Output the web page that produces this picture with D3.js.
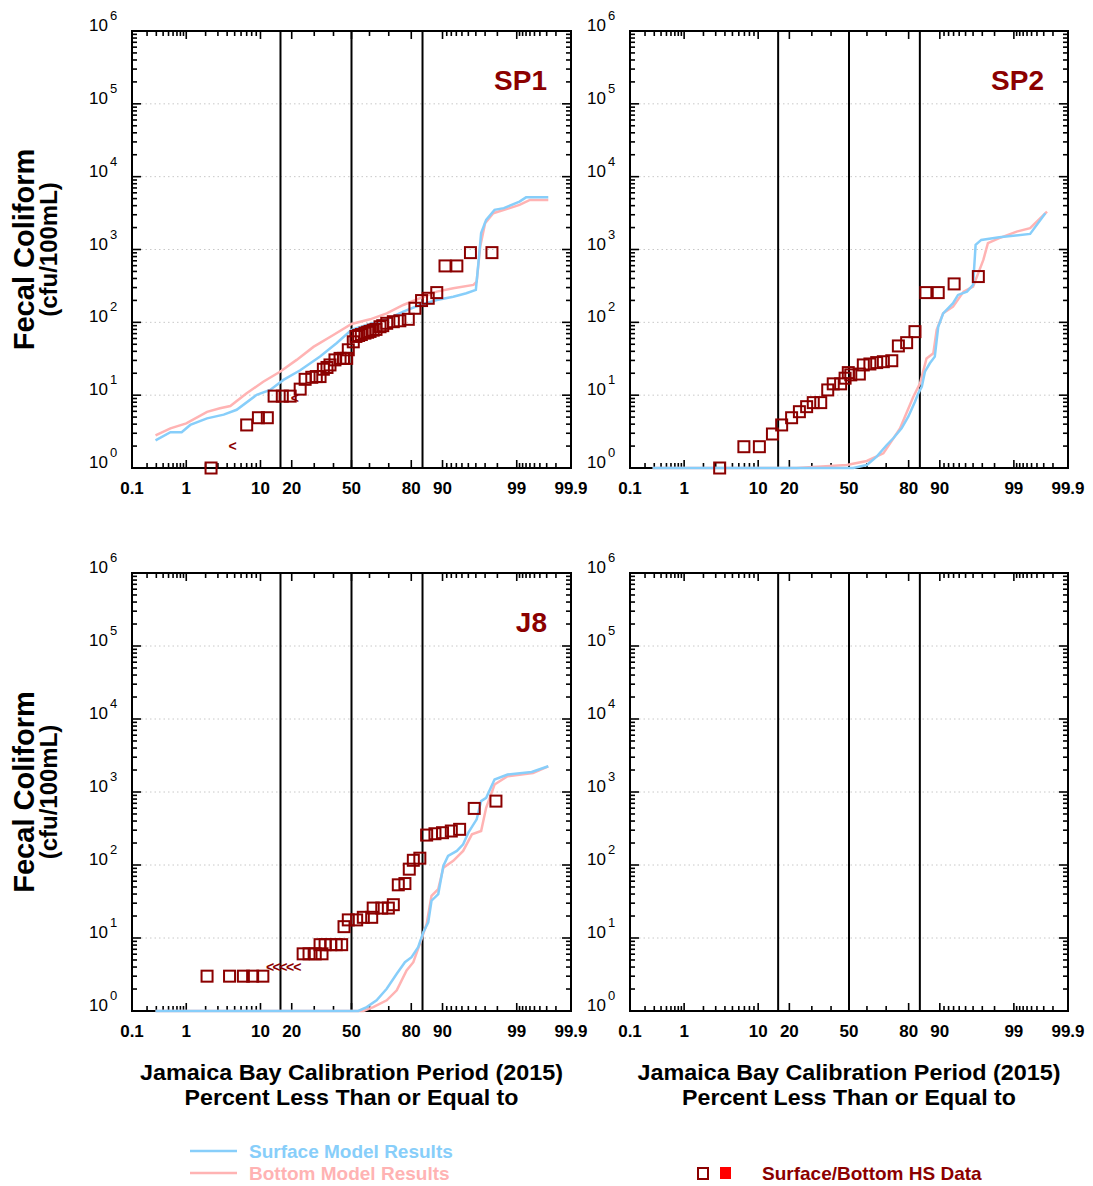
<!DOCTYPE html>
<html><head><meta charset="utf-8">
<script src="https://cdn.jsdelivr.net/npm/d3@7"></script>
<style>body{margin:0;background:#fff}svg{display:block}</style>
</head><body><svg id="c" width="1093" height="1186"></svg>
<script>
// ---------- data ----------
const xTickLabels = [0.1, 1, 10, 20, 50, 80, 90, 99, 99.9];
const xMinorTicks = [0.2,0.3,0.4,0.5,0.6,0.7,0.8,0.9,2,3,4,5,6,7,8,9,30,40,60,70,91,92,93,94,95,96,97,98,99.1,99.2,99.3,99.4,99.5,99.6,99.7,99.8];
const yDecades = [0,1,2,3,4,5,6];
const gridDecades = [1,2,3,4,5];
const refLines = [15.87, 50, 84.13];

const sp1Surface = [[0.29,2.4],[0.54,3.1],[0.84,3.1],[1.16,3.9],[2.1,4.8],[3.6,5.4],[5.3,6.3],[9.1,10.1],[12.6,11.8],[16.9,16.2],[23.5,22],[32.9,34],[41.8,52],[50,79],[60.3,95],[69,110],[76.7,140],[83.2,173],[88.5,203],[92.4,225],[94.7,251],[96.0,279],[96.3,650],[96.6,1680],[97.1,2550],[97.8,3500],[98.4,3700],[99.1,4550],[99.3,5200],[99.72,5200]];
const sp1Bottom = [[0.29,2.8],[0.54,3.5],[1.0,4.1],[2.1,5.9],[3.2,6.6],[4.4,7.1],[7.0,10.6],[10.7,15.3],[15.7,21],[22,30.5],[29.6,46],[39.9,67],[50,95],[60.3,110],[69,133],[76.7,173],[83.2,214],[88.5,264],[92.4,294],[95.7,326],[96.1,362],[96.5,1100],[97,2300],[97.7,3150],[98.7,3700],[99.1,4100],[99.4,4800],[99.72,4800]];
const sp1Data = [[2.4,1],[7.0,3.9],[9.5,4.9],[11.8,4.9],[13.8,9.7],[16.5,9.7],[19.4,9.7],[23.5,12.1],[25.7,16.5],[28.8,17.6],[31,18],[32.9,18],[34.6,22.7],[36.5,24],[38.1,26],[40.8,30.5],[43.6,32],[45.5,32],[47.3,32],[48.2,42],[51,54],[52.5,64],[54,66],[55.5,68],[57.5,71],[59,73],[60.3,75],[62,78],[63.5,80],[65.6,87],[67,90],[69,97],[72.2,102],[75.2,105],[78.8,110],[81.4,156],[83.8,199],[86,214],[88.5,256],[90.6,595],[93.1,595],[95.3,906],[97.6,906]];
const sp1Less = [[4.7,2.0],[21.3,9.2]];

const sp2Surface = [[0.28,1],[52.4,1],[59.9,1.1],[65.2,1.43],[70.3,2.07],[73.4,2.56],[77.1,3.5],[79.9,5.1],[82.4,8.1],[83.6,10.6],[84.8,13.1],[85.8,21],[87.3,27.4],[88.7,33.8],[89.6,87],[90.8,133],[92.9,183],[93.8,238],[95.2,264],[96,326],[96.3,1157],[96.9,1355],[98.3,1476],[99.47,1638],[99.72,3155]];
const sp2Bottom = [[0.28,1],[23,1],[48.7,1.1],[59.9,1.25],[68.6,1.59],[71.9,2.18],[76.4,3.5],[81.8,9.5],[84.2,14.6],[86.3,32],[88.3,37.6],[89.2,79],[90.8,133],[92.9,164],[94.7,264],[96,309],[97.1,720],[97.5,1222],[98.3,1430],[99.1,1762],[99.47,1963],[99.74,3315]];
const sp2Data = [[3.4,1],[6.9,1.96],[10.3,1.96],[14,2.93],[17.1,3.9],[20.9,4.9],[24.2,5.93],[27.5,6.95],[30.7,7.9],[34.5,7.9],[38.2,11.8],[41.2,14.3],[45.3,14.3],[47.8,17.1],[49.6,20.4],[51,19],[55.8,19.5],[58,26],[61.6,26.8],[65.2,28],[68.6,28.8],[72.7,29.7],[75.7,47.4],[79.2,52.6],[82.4,74.5],[86.1,256],[89.6,256],[93.1,337],[96.6,425]];
const sp2Less = [];

const j8Surface = [[0.29,1],[53.8,1],[58.5,1.13],[63.8,1.4],[69,2.02],[73.8,3.24],[77.4,4.66],[80.1,5.45],[82.6,7.47],[84.4,12],[86,16.4],[87,32.4],[88.9,40],[90.2,97],[91.3,133],[93.1,156],[94.2,192],[95,277],[96.1,422],[96.6,750],[97.1,832],[97.8,1480],[98.6,1734],[99.44,1880],[99.72,2250]];
const j8Bottom = [[0.29,1],[56.6,1],[62,1.13],[69,1.4],[73.8,1.92],[78.1,3.59],[80.8,4.66],[83.2,8.3],[85.5,15.6],[87,37.9],[88.9,46.8],[90.2,92],[92.4,114],[94.2,156],[95.5,263],[96.6,292],[97.1,607],[97.8,1265],[98.6,1643],[99.47,1820],[99.72,2250]];
const j8Data = [[2.1,3.0],[4.3,3.0],[6.4,3.0],[8.2,3.0],[10.6,3.0],[24.8,6.07],[27.5,6.07],[30.5,6.07],[33.9,6.07],[32.9,8.1],[35.5,8.1],[38.5,8.1],[41.5,8.1],[44.5,8.1],[45.8,14.3],[48.2,17.7],[52.9,17.7],[56.6,19.2],[61.2,19.2],[62,25.7],[66.5,25.7],[69.8,25.7],[72.2,28.6],[74.5,53.5],[77.4,55.7],[79.2,87.7],[80.8,116],[83.2,124],[85.5,257],[88,268],[90,277],[92,292],[93.6,308],[95.8,596],[97.9,750]];
const j8Less = [[12.6,4.0],[14.6,4.0],[16.9,4.0],[19.4,4.0],[22.3,4.0]];

const panelNames = ["SP1","SP2","J8",""];
const xTitle = ["Jamaica Bay Calibration Period (2015)","Percent Less Than or Equal to"];
const yTitle = ["Fecal Coliform","(cfu/100mL)"];
const legendItems = ["Surface Model Results","Bottom Model Results","Surface/Bottom HS Data"];

// ---------- helpers ----------
function probit(p){
  const a=[-3.969683028665376e+01,2.209460984245205e+02,-2.759285104469687e+02,1.383577518672690e+02,-3.066479806614716e+01,2.506628277459239e+00];
  const b=[-5.447609879822406e+01,1.615858368580409e+02,-1.556989798598866e+02,6.680131188771972e+01,-1.328068155288572e+01];
  const c=[-7.784894002430293e-03,-3.223964580411365e-01,-2.400758277161838e+00,-2.549732539343734e+00,4.374664141464968e+00,2.938163982698783e+00];
  const d=[7.784695709041462e-03,3.224671290700398e-01,2.445134137142996e+00,3.754408661907416e+00];
  const pl=0.02425, ph=1-pl; let q,r;
  if(p<pl){q=Math.sqrt(-2*Math.log(p));return (((((c[0]*q+c[1])*q+c[2])*q+c[3])*q+c[4])*q+c[5])/((((d[0]*q+d[1])*q+d[2])*q+d[3])*q+1);}
  if(p<=ph){q=p-0.5;r=q*q;return (((((a[0]*r+a[1])*r+a[2])*r+a[3])*r+a[4])*r+a[5])*q/(((((b[0]*r+b[1])*r+b[2])*r+b[3])*r+b[4])*r+1);}
  q=Math.sqrt(-2*Math.log(1-p));return -(((((c[0]*q+c[1])*q+c[2])*q+c[3])*q+c[4])*q+c[5])/((((d[0]*q+d[1])*q+d[2])*q+d[3])*q+1);
}

const BLUE="#87CEFA", PINK="#FFB3B3", DRED="#8B0000";
const FONT="'Liberation Sans', Arial, Helvetica, sans-serif";
const svg=d3.select("#c");
const cols=[{l:132,r:571},{l:630,r:1068}];
const rows=[{t:31,b:468},{t:573,b:1011}];
const panels=[
  {name:panelNames[0],col:0,row:0,surface:sp1Surface,bottom:sp1Bottom,data:sp1Data,less:sp1Less},
  {name:panelNames[1],col:1,row:0,surface:sp2Surface,bottom:sp2Bottom,data:sp2Data,less:sp2Less},
  {name:panelNames[2],col:0,row:1,surface:j8Surface,bottom:j8Bottom,data:j8Data,less:j8Less},
  {name:panelNames[3],col:1,row:1,surface:[],bottom:[],data:[],less:[]}
];

const yMinor=[];
for(let k=0;k<6;k++) for(let m=2;m<=9;m++) yMinor.push(m*Math.pow(10,k));

panels.forEach(P=>{
  const c=cols[P.col], r=rows[P.row];
  const zs=d3.scaleLinear().domain([probit(0.001),probit(0.999)]).range([c.l,c.r]);
  const x=v=>zs(probit(v/100));
  const y=d3.scaleLog().domain([1,1e6]).range([r.b,r.t]);
  const g=svg.append("g");

  // grid
  g.selectAll("line.grid").data(gridDecades).join("line")
    .attr("x1",c.l).attr("x2",c.r).attr("y1",d=>y(Math.pow(10,d))).attr("y2",d=>y(Math.pow(10,d)))
    .attr("stroke","#c8c8c8").attr("stroke-width",1).attr("stroke-dasharray","1.5,3");

  // ref lines
  g.selectAll("line.ref").data(refLines).join("line")
    .attr("x1",d=>x(d)).attr("x2",d=>x(d)).attr("y1",r.t).attr("y2",r.b)
    .attr("stroke","#000").attr("stroke-width",2);

  // x ticks (bottom and top, inside)
  const xt=[...xTickLabels.map(v=>({v,len:8})),...xMinorTicks.map(v=>({v,len:5}))];
  g.selectAll("line.xtb").data(xt).join("line")
    .attr("x1",d=>x(d.v)).attr("x2",d=>x(d.v)).attr("y1",r.b).attr("y2",d=>r.b-d.len)
    .attr("stroke","#000").attr("stroke-width",1.6);
  g.selectAll("line.xtt").data(xt).join("line")
    .attr("x1",d=>x(d.v)).attr("x2",d=>x(d.v)).attr("y1",r.t).attr("y2",d=>r.t+d.len)
    .attr("stroke","#000").attr("stroke-width",1.6);
  // y ticks (left and right)
  const yt=[...yDecades.map(k=>({v:Math.pow(10,k),len:9})),...yMinor.map(v=>({v,len:5}))];
  g.selectAll("line.ytl").data(yt).join("line")
    .attr("x1",c.l).attr("x2",d=>c.l+d.len).attr("y1",d=>y(d.v)).attr("y2",d=>y(d.v))
    .attr("stroke","#000").attr("stroke-width",1.6);
  g.selectAll("line.ytr").data(yt).join("line")
    .attr("x1",c.r).attr("x2",d=>c.r-d.len).attr("y1",d=>y(d.v)).attr("y2",d=>y(d.v))
    .attr("stroke","#000").attr("stroke-width",1.6);

  // frame
  g.append("rect").attr("x",c.l).attr("y",r.t).attr("width",c.r-c.l).attr("height",r.b-r.t)
    .attr("fill","none").attr("stroke","#000").attr("stroke-width",2);

  // x tick labels
  g.selectAll("text.xl").data(xTickLabels).join("text")
    .attr("x",d=>x(d)).attr("y",r.b+26).attr("text-anchor","middle")
    .attr("font-family",FONT).attr("font-weight","bold").attr("font-size",17).text(d=>String(d));
  // y tick labels
  const yl=g.selectAll("g.yl").data(yDecades).join("g");
  yl.append("text").attr("x",c.l-24).attr("y",d=>y(Math.pow(10,d))).attr("text-anchor","end")
    .attr("font-family",FONT).attr("font-size",17).text("10");
  yl.append("text").attr("x",c.l-22).attr("y",d=>y(Math.pow(10,d))-11)
    .attr("font-family",FONT).attr("font-size",13).text(d=>String(d));

  // model lines
  const line=d3.line().x(d=>x(d[0])).y(d=>y(d[1]));
  if(P.bottom.length) g.append("path").datum(P.bottom).attr("d",line).attr("fill","none").attr("stroke",PINK).attr("stroke-width",2.5);
  if(P.surface.length) g.append("path").datum(P.surface).attr("d",line).attr("fill","none").attr("stroke",BLUE).attr("stroke-width",2.5);

  // data squares
  g.selectAll("rect.pt").data(P.data).join("rect")
    .attr("x",d=>x(d[0])-5.5).attr("y",d=>y(d[1])-5.5).attr("width",11).attr("height",11)
    .attr("fill","none").attr("stroke",DRED).attr("stroke-width",2);
  g.selectAll("text.lt").data(P.less).join("text")
    .attr("x",d=>x(d[0])).attr("y",d=>y(d[1])+5).attr("text-anchor","middle")
    .attr("font-family",FONT).attr("font-weight","bold").attr("font-size",14).attr("fill",DRED).text("<");

  // panel label
  if(P.name) g.append("text").attr("x",c.r-24).attr("y",r.t+59).attr("text-anchor","end")
    .attr("font-family",FONT).attr("font-weight","bold").attr("font-size",28).attr("fill",DRED).text(P.name);
});

// y axis titles
rows.forEach(r=>{
  const cy=(r.t+r.b)/2;
  svg.append("text").attr("transform",`translate(34,${cy}) rotate(-90)`).attr("text-anchor","middle")
    .attr("font-family",FONT).attr("font-weight","bold").attr("font-size",29).text(yTitle[0]);
  svg.append("text").attr("transform",`translate(57,${cy}) rotate(-90)`).attr("text-anchor","middle")
    .attr("font-family",FONT).attr("font-weight","bold").attr("font-size",24).text(yTitle[1]);
});
// x axis titles
cols.forEach(c=>{
  const cx=(c.l+c.r)/2;
  svg.append("text").attr("x",cx).attr("y",1080).attr("text-anchor","middle")
    .attr("font-family",FONT).attr("font-weight","bold").attr("font-size",22).attr("textLength",423).attr("lengthAdjust","spacingAndGlyphs").text(xTitle[0]);
  svg.append("text").attr("x",cx).attr("y",1105).attr("text-anchor","middle")
    .attr("font-family",FONT).attr("font-weight","bold").attr("font-size",22).attr("textLength",334).attr("lengthAdjust","spacingAndGlyphs").text(xTitle[1]);
});

// legend
const lg=svg.append("g");
lg.append("line").attr("x1",190).attr("x2",237).attr("y1",1151).attr("y2",1151).attr("stroke",BLUE).attr("stroke-width",2.5);
lg.append("text").attr("x",249).attr("y",1158).attr("font-family",FONT).attr("font-weight","bold").attr("font-size",19).attr("fill",BLUE).text(legendItems[0]);
lg.append("line").attr("x1",190).attr("x2",237).attr("y1",1173).attr("y2",1173).attr("stroke",PINK).attr("stroke-width",2.5);
lg.append("text").attr("x",249).attr("y",1180).attr("font-family",FONT).attr("font-weight","bold").attr("font-size",19).attr("fill",PINK).text(legendItems[1]);
lg.append("rect").attr("x",698).attr("y",1168).attr("width",10).attr("height",11).attr("fill","none").attr("stroke",DRED).attr("stroke-width",2);
lg.append("rect").attr("x",720).attr("y",1167).attr("width",11).attr("height",12).attr("fill","#FF0000");
lg.append("text").attr("x",762).attr("y",1180).attr("font-family",FONT).attr("font-weight","bold").attr("font-size",19).attr("fill",DRED).text(legendItems[2]);
</script></body></html>
